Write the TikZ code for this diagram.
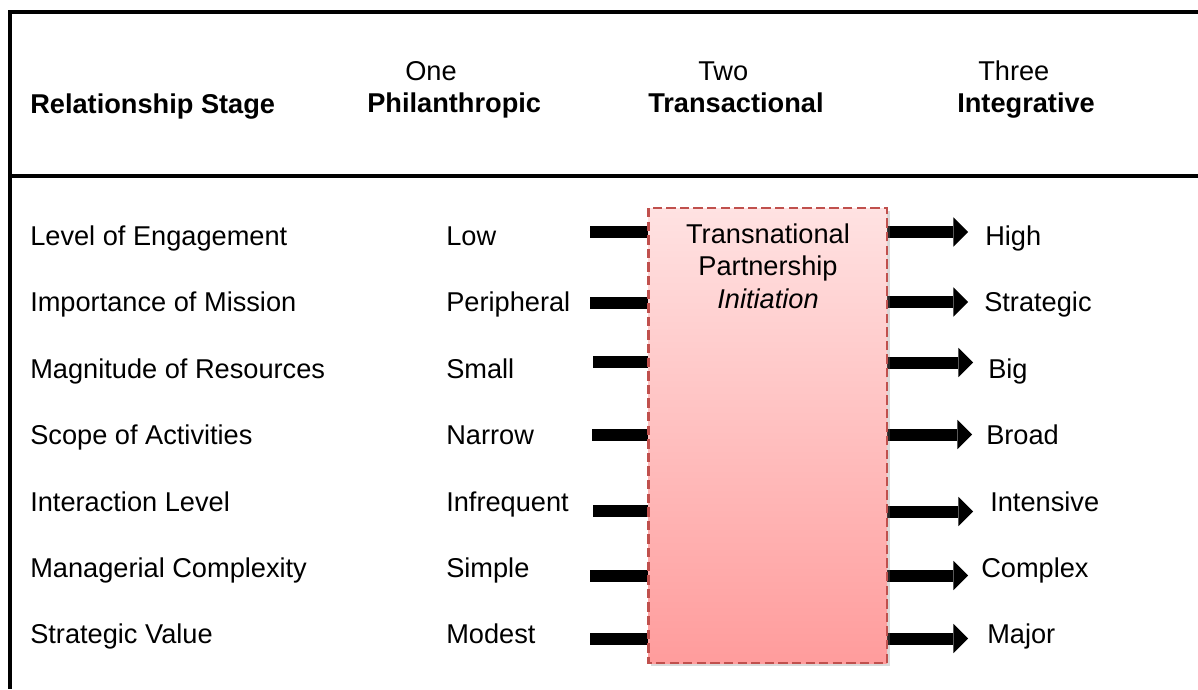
\documentclass[tikz,border=0pt]{standalone}
\usepackage{fontspec}
\setmainfont{Liberation Sans}
\usetikzlibrary{arrows.meta,shadows}

\definecolor{boxtop}{RGB}{255,226,226}
\definecolor{boxbot}{RGB}{255,156,156}
\definecolor{boxline}{RGB}{192,80,77}

\begin{document}
\begin{tikzpicture}[x=0.75pt,y=-0.75pt,
    txt/.style={anchor=base west,inner sep=0pt,font=\fontsize{20.4}{24}\selectfont},
    hd/.style={txt,font=\fontsize{20.4}{24}\selectfont\bfseries},
    frame/.style={line width=3pt},
    bar/.style={line width=9pt},
    arr/.style={line width=9pt,-{Triangle[length=11pt,width=22pt,line width=0pt]}}]
        \useasboundingbox (0,0) rectangle (1198,689);
        \coordinate (bnw) at (648.5,208);
        \coordinate (bse) at (887,663);

        % frame
        \draw[frame] (1198,12) -- (10,12) -- (10,689);
        \draw[frame] (10,176) -- (1198,176);

        % header
        \node[hd] (stage) at (30,113) {Relationship Stage};
        \node[txt] (one) at (405,80.5) {One};
        \node[hd] (phil) at (367,112) {Philanthropic};
        \node[txt] (two) at (698,80.5) {Two};
        \node[hd] (trans) at (648,112) {Transactional};
        \node[txt] (three) at (978,80.5) {Three};
        \node[hd] (integ) at (957,112) {Integrative};

        % rows
        \node[txt] (crit1) at (30,245.5) {Level of Engagement};
        \node[txt] (crit2) at (30,311.7) {Importance of Mission};
        \node[txt] (crit3) at (30,378) {Magnitude of Resources};
        \node[txt] (crit4) at (30,444.7) {Scope of Activities};
        \node[txt] (crit5) at (30,511) {Interaction Level};
        \node[txt] (crit6) at (30,577) {Managerial Complexity};
        \node[txt] (crit7) at (30,643) {Strategic Value};

        \node[txt] (low1) at (446,245.5) {Low};
        \node[txt] (low2) at (446,311.7) {Peripheral};
        \node[txt] (low3) at (446,378) {Small};
        \node[txt] (low4) at (446,444.7) {Narrow};
        \node[txt] (low5) at (446,511) {Infrequent};
        \node[txt] (low6) at (446,577) {Simple};
        \node[txt] (low7) at (446,643) {Modest};

        \node[txt] (high1) at (985,245.5) {High};
        \node[txt] (high2) at (984,311.7) {Strategic};
        \node[txt] (high3) at (988,378) {Big};
        \node[txt] (high4) at (986,444.7) {Broad};
        \node[txt] (high5) at (990,511) {Intensive};
        \node[txt] (high6) at (981,577) {Complex};
        \node[txt] (high7) at (987,643) {Major};

        % bars into the box
        \coordinate (lb1) at (590,231.6);
        \coordinate (lb2) at (590,302.5);
        \coordinate (lb3) at (593,362);
        \coordinate (lb4) at (592,434.5);
        \coordinate (lb5) at (593,511);
        \coordinate (lb6) at (590,575.5);
        \coordinate (lb7) at (590,639);
        \draw[bar] (lb1) -- (lb1 -| bnw);
        \draw[bar] (lb2) -- (lb2 -| bnw);
        \draw[bar] (lb3) -- (lb3 -| bnw);
        \draw[bar] (lb4) -- (lb4 -| bnw);
        \draw[bar] (lb5) -- (lb5 -| bnw);
        \draw[bar] (lb6) -- (lb6 -| bnw);
        \draw[bar] (lb7) -- (lb7 -| bnw);

        % arrows out of the box
        \coordinate (tip1) at (968,232);
        \coordinate (tip2) at (968,302);
        \coordinate (tip3) at (973,362.5);
        \coordinate (tip4) at (972,434.5);
        \coordinate (tip5) at (973,511.5);
        \coordinate (tip6) at (968,575.5);
        \coordinate (tip7) at (968,638.5);
        \draw[arr] (tip1 -| bse) -- (tip1);
        \draw[arr] (tip2 -| bse) -- (tip2);
        \draw[arr] (tip3 -| bse) -- (tip3);
        \draw[arr] (tip4 -| bse) -- (tip4);
        \draw[arr] (tip5 -| bse) -- (tip5);
        \draw[arr] (tip6 -| bse) -- (tip6);
        \draw[arr] (tip7 -| bse) -- (tip7);

        % box
        \draw[boxline,line width=2pt,dash pattern=on 7pt off 3.2pt,
            top color=boxtop,bottom color=boxbot,
            drop shadow={shadow xshift=2pt,shadow yshift=-2.5pt,opacity=0.3}]
            (bnw) rectangle (bse);
        \node[txt,anchor=base] (tp1) at (768,243) {Transnational};
        \node[txt,anchor=base] (tp2) at (768,275.5) {Partnership};
        \node[txt,anchor=base] (tp3) at (768,308) {\itshape Initiation};
    \end{tikzpicture}
\end{document}
